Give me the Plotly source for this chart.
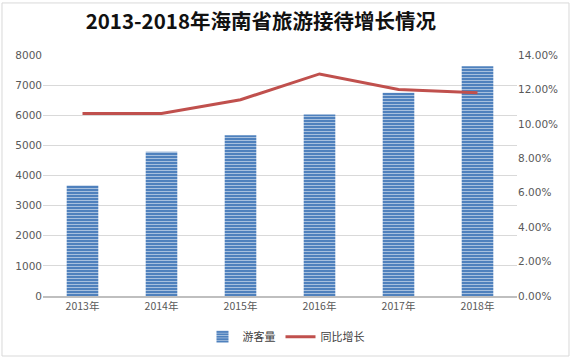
import plotly.graph_objects as go

years = ["2013年", "2014年", "2015年", "2016年", "2017年", "2018年"]
visitors = [3672, 4789, 5336, 6023, 6745, 7627]
growth = [0.106, 0.106, 0.114, 0.129, 0.120, 0.118]
left_ticks = [0, 1000, 2000, 3000, 4000, 5000, 6000, 7000, 8000]
right_ticks = [0, 0.02, 0.04, 0.06, 0.08, 0.10, 0.12, 0.14]

fig = go.Figure()
fig.add_trace(go.Bar(
    x=years, y=visitors, name="游客量",
    marker=dict(color="#4f81bd", line=dict(width=0),
                pattern=dict(shape="-", fgcolor="white", bgcolor="#4f81bd",
                             size=3, solidity=0.35)),
))
fig.add_trace(go.Scatter(
    x=years, y=growth, name="同比增长", yaxis="y2", mode="lines",
    line=dict(color="#c0504d", width=3),
))

fig.update_layout(
    width=572, height=359,
    paper_bgcolor="white", plot_bgcolor="white",
    margin=dict(l=43, r=55, t=55, b=63, autoexpand=False),
    title=dict(text="<b>2013-2018年海南省旅游接待增长情况</b>", x=0.456, xanchor="center",
               xref="container", y=0.94, yanchor="middle",
               font=dict(family="Noto Sans CJK SC", size=20.5, color="#111111")),
    font=dict(family="Noto Sans CJK SC, DejaVu Sans", size=10.5, color="#595959"),
    bargap=0.6,
    showlegend=True,
    legend=dict(orientation="h", x=0.5, xanchor="center", xref="container",
                y=0.062, yanchor="middle", yref="container",
                font=dict(size=11, color="#404040")),
    xaxis=dict(showgrid=False, showline=True, linecolor="#bfbfbf", linewidth=1.5,
               ticks="", tickfont=dict(size=10.5), automargin=False),
    yaxis=dict(range=[0, 8000], tickvals=left_ticks, showgrid=True,
               gridcolor="#d9d9d9", zeroline=False, ticks="", automargin=False,
               tickfont=dict(family="DejaVu Sans", size=10.5)),
    yaxis2=dict(range=[0, 0.14], tickvals=right_ticks, tickformat=".2%",
                overlaying="y", side="right", showgrid=False, zeroline=False,
                ticks="", automargin=False,
                tickfont=dict(family="DejaVu Sans", size=10.5)),
    shapes=[dict(type="rect", xref="paper", yref="paper", x0=-0.0865, x1=1.1097,
                 y0=-0.249, y1=1.216, line=dict(color="#d9d9d9", width=1))],
)

fig.write_html("out.html", config={"displayModeBar": False},
               post_script="document.body.style.margin='0';")
